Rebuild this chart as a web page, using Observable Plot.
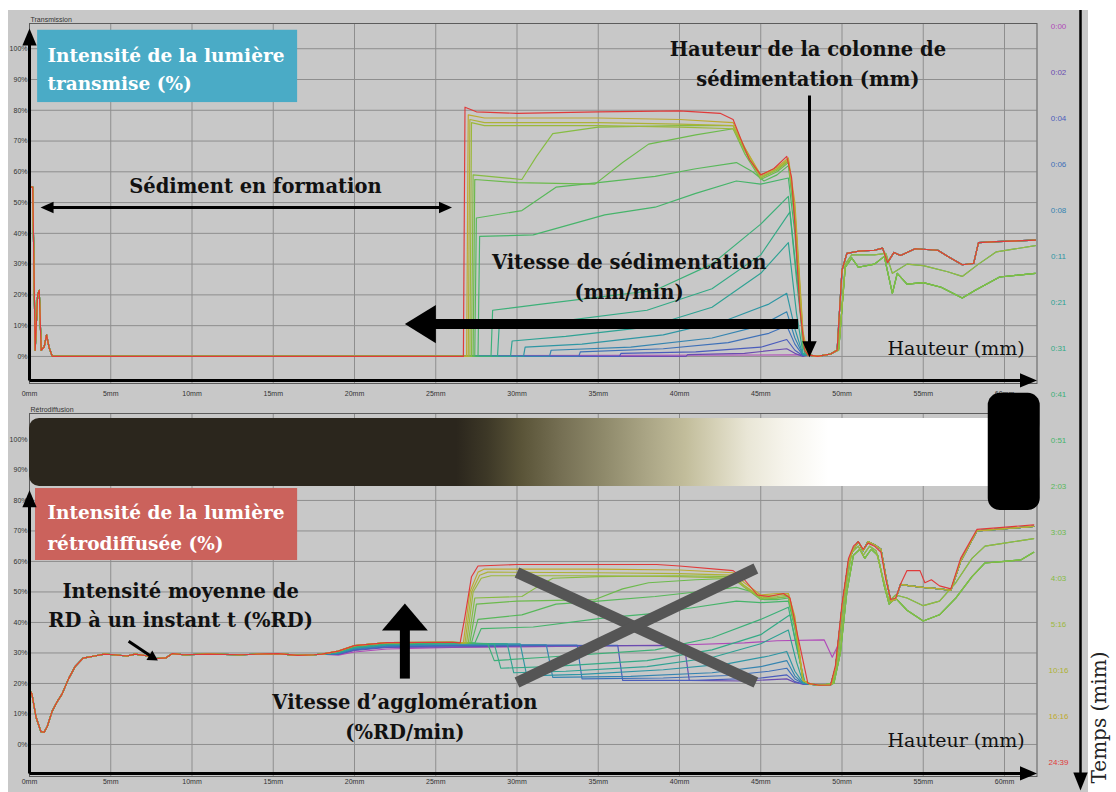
<!DOCTYPE html>
<html><head><meta charset="utf-8">
<script src="https://cdn.jsdelivr.net/npm/d3@7"></script>
<script src="https://cdn.jsdelivr.net/npm/@observablehq/plot@0.6"></script>
<style>
html,body{margin:0;padding:0;background:#fff;}
#wrap{position:relative;width:1116px;height:792px;overflow:hidden;background:#fff;}
#bg{position:absolute;left:8px;top:10px;width:1080px;height:782px;background:#c8c8c8;}
#wrap svg{position:absolute;}
</style></head>
<body><div id="wrap"><div id="bg"></div></div>
<script>
// ---------------- DATA ----------------
const times = ["0:00","0:02","0:04","0:06","0:08","0:11","0:21","0:31","0:41","0:51","2:03","3:03","4:03","5:16","10:16","16:16","24:39"];
const xTicks = [0,5,10,15,20,25,30,35,40,45,50,55,60];
const yTicks = [0,10,20,30,40,50,60,70,80,90,100];

// Transmission (%), shared start (0-1.4 mm)
const transLeft = [[0,55],[0.2,55],[0.35,2],[0.5,20],[0.6,21.5],[0.72,2],[0.9,3],[1.05,7],[1.2,3],[1.4,0]];
// Transmission, per time, 26-48 mm
const transMid = [
  [],
  [[40.4,0],[40.5,0.6],[44,1],[46.6,2.5],[47.1,1],[47.6,0]],
  [[36.3,0],[36.4,1],[41,1.5],[45,3],[46.6,5.5],[47.1,2],[47.6,0.2]],
  [[33.8,0],[33.9,1.5],[39,2.5],[43,4.5],[45.5,7.5],[46.6,10],[47.1,4],[47.6,0.3]],
  [[32.0,0],[32.1,2],[37,3],[42,6],[45,10],[46.6,14.5],[47.1,6],[47.6,0.5]],
  [[30.4,0],[30.5,3],[34,4],[39,7],[43,12],[45.5,17],[46.6,20.5],[47.1,9],[47.6,0.5]],
  [[29.6,0],[29.7,5],[33,6.5],[38,9.5],[42,16],[45,27],[46.7,37],[47.2,14],[47.6,1]],
  [[28.8,0],[28.9,9.5],[32,11],[38,15],[42,22],[45,33],[46.8,47],[47.3,22],[47.7,1]],
  [[28.4,0],[28.5,15],[31.5,17],[38.5,21.5],[42,30],[45,43],[46.7,52],[47.2,25],[47.7,1]],
  [[27.6,0],[27.7,39],[31,39.5],[35.4,46],[38.5,48.5],[41,53],[43.5,57],[45,56],[46.7,58],[47.1,40],[47.6,3]],
  [[27.4,0],[27.5,45],[30.3,47.4],[32.4,55],[35,56.5],[38.5,58.5],[41,61],[43.5,63],[44.5,60],[45.2,57],[46,59],[46.7,62],[47.1,44],[47.6,3]],
  [[27.3,0],[27.4,57.5],[30,56.5],[34.8,56],[36.5,63],[38.1,69],[41,72],[43.3,74],[44,66],[45,57.5],[46,60],[46.7,63],[47.1,45],[47.6,4]],
  [[27.2,0],[27.3,59],[30.3,57.5],[31.2,65],[32.2,72.4],[35,74.5],[40,75],[43.3,75],[44,67],[45,58],[46,60.5],[46.7,63.5],[47.1,46],[47.6,5]],
  [[27.1,0],[27.2,76],[28,75],[35,75],[40,74.5],[43.3,74],[44,67],[45,58],[46,61],[46.7,63.5],[47.1,47],[47.6,6]],
  [[27.0,0],[27.1,77],[28,76],[35,76],[40,75.5],[43.3,75],[44,68],[45,58.5],[46,61],[46.7,64],[47.1,48],[47.6,7]],
  [[26.9,0],[27.0,78.5],[28,77.5],[35,77.5],[40,77],[43.3,76],[44,68],[45,59],[46,61.5],[46.7,64.5],[47.1,50],[47.6,8]],
  [[26.7,0],[26.8,81],[27.5,79.5],[30,79],[35,79.5],[40,79.8],[42.5,79],[43.3,77],[43.9,69],[44.3,64],[45,59],[45.8,61],[46.6,65],[46.9,58],[47.1,43],[47.4,16],[47.7,2]]
];
// Transmission, top of the cell (48-62 mm), three families of curves
const transRightA = [[47.9,0.5],[48.5,0],[49.3,0.8],[49.7,2],[50.0,28],[50.3,33.5],[51,34.2],[52,34.5],[52.5,35.2],[52.8,30.5],[53.2,33.8],[53.6,32.8],[54.5,35],[55.9,34.5],[56.6,32.2],[57.4,29.8],[58.1,30.2],[58.4,37],[59.5,37.3],[61.9,37.8]];
const transRightB = [[47.9,0.5],[48.5,0],[49.3,0.8],[49.8,2.5],[50.2,29],[50.6,32],[51,29],[52,30],[52.6,32.5],[53.1,20.5],[53.4,27],[54,23.5],[55,24],[56.1,22.5],[57.4,19],[58.2,21.5],[59.7,25.8],[61.9,27]];
const transRightC = [[47.9,0.5],[48.5,0],[49.3,0.8],[49.8,2],[50.2,30],[50.6,33],[52,33],[52.7,33.5],[53.1,27],[54,30],[55,29.5],[56.5,27.5],[57.4,26],[58.4,30],[59.5,34],[61.9,36]];
const transRightGroup = ["A","A","A","A","A","A","A","C","B","B","B","B","B","C","A","A","A"];

// Backscattering (%), shared start (0-18 mm)
const backLeft = [[0,18],[0.15,16.5],[0.4,9],[0.7,4.2],[0.9,4],[1.1,6],[1.4,11],[1.7,14],[2.0,16.5],[2.4,21.5],[2.8,25.5],[3.3,28.3],[4,29],[4.6,29.6],[5.2,29.4],[6,29],[6.5,29.6],[7.3,29],[7.8,28.2],[8.4,28.4],[8.8,29.8],[9.5,29.4],[11,29.6],[13,29.4],[14.5,29.7],[15.3,29.8],[16.5,29.2],[17.5,29.4],[18,29.6]];
const backMid = [
  [[19,29.3],[20,30.3],[22,31.3],[24,31.6],[26,31.8],[30,32],[35,32.3],[40,32.6],[44,33.3],[46,34],[48.9,34.3],[49.4,28.6]],
  [[19,29.5],[20,30.8],[22,31.8],[26,32],[30,32.2],[35,32.4],[40.3,32.4],[40.6,21],[44,20.8],[46.6,21.5],[47.1,20.3],[47.6,19.8]],
  [[19,29.6],[20,31],[22,32],[26,32.3],[30,32.4],[36.2,32.5],[36.5,21],[41,21],[45,21.8],[46.6,22.8],[47.1,20.6],[47.6,19.8]],
  [[19,29.7],[20,31.2],[22,32.2],[26,32.5],[30,32.6],[33.7,32.6],[34.0,21.5],[39,21.8],[43,22.6],[45.5,24],[46.6,25],[47.1,21.5],[47.6,20]],
  [[19,29.8],[20,31.4],[22,32.4],[26,32.7],[31.8,32.7],[32.2,22],[37,22.3],[42,23.5],[45,25.5],[46.6,27.5],[47.1,22.5],[47.6,20]],
  [[19,30],[20,31.6],[22,32.6],[26,33],[30.2,33],[30.6,22.5],[34,23],[39,24.5],[43,26.5],[45.5,29],[46.6,30.5],[47.1,24],[47.6,20.2]],
  [[19,30.2],[20,31.8],[22,32.8],[26,33.2],[29.4,33],[29.8,23.5],[33,24],[38,25.5],[42,28.5],[45,33],[46.7,37.5],[47.2,27],[47.6,20.5]],
  [[19,30.3],[20,32],[22,33],[26,33.3],[28.6,33],[29.0,25],[32,25.5],[38,27.5],[42,31],[45,36],[46.8,42.5],[47.3,30],[47.7,20.5]],
  [[19,30.4],[20,32.1],[22,33.1],[26,33.4],[28.2,33],[28.6,27.5],[31.5,28.5],[38.5,31],[42,35],[45,41],[46.7,45],[47.2,32],[47.7,20.5]],
  [[19,30.5],[20,32.2],[22,33.2],[26,33.4],[27.4,33.2],[27.8,38],[31,38.5],[35.4,41.5],[38.5,43],[41,45],[43.5,47],[45,46.5],[46.7,47],[47.1,38],[47.6,21]],
  [[19,30.5],[20,32.3],[22,33.3],[26,33.5],[27.2,33.3],[27.6,41],[30.3,42.5],[32.4,46],[35,47],[38.5,48.5],[41,50],[43.5,51.5],[44.5,50],[45.2,47.5],[46,47.5],[46.7,48],[47.1,39],[47.6,21]],
  [[19,30.6],[20,32.4],[22,33.4],[26,33.5],[27.1,33.3],[27.5,46],[30,47],[34.8,47.5],[36.5,51],[38.1,53],[41,54],[43.3,54.5],[44,51.5],[45,47.5],[46,48],[46.7,48.5],[47.1,39],[47.6,21]],
  [[19,30.6],[20,32.4],[22,33.4],[26,33.5],[27.0,33.3],[27.4,48],[30.3,48.5],[31.2,51.5],[32.2,54.5],[35,55],[40,55.3],[43.3,55],[44,52],[45,48],[46,48],[46.7,48.5],[47.1,39],[47.6,21]],
  [[19,30.6],[20,32.4],[22,33.4],[26,33.5],[26.9,33.3],[27.3,50],[27.8,54.5],[28.4,55.3],[35,55.3],[40,55],[43.3,54.5],[44,51.5],[45,48],[46,48.5],[46.7,49],[47.1,40],[47.6,21]],
  [[19,30.6],[20,32.4],[22,33.4],[26,33.5],[26.8,33.3],[27.2,50],[27.7,55.5],[28.2,56.5],[35,56.3],[40,56],[43.3,55.5],[44,52],[45,48.5],[46,49],[46.7,49.5],[47.1,41],[47.6,21]],
  [[19,30.6],[20,32.4],[22,33.4],[26,33.5],[26.7,33.3],[27.1,50],[27.6,56.5],[28,57.5],[35,57.5],[40,57.2],[43.3,56.3],[44,53],[45,49],[46,49.5],[46.7,49.5],[47.1,42],[47.6,21]],
  [[19,30.6],[20,32.4],[22,33.4],[26,33.5],[26.5,33.3],[26.8,42],[27.2,55],[27.6,58.5],[30,59],[35,59],[38.6,59],[40,58.5],[43.3,57],[44,54],[44.8,49],[45.5,48.5],[46.4,49.5],[46.8,48],[47.3,35],[47.9,20]]
];
const backRightA = [[48.0,19.8],[48.6,19.4],[49.3,19.5],[49.6,25],[50.0,45],[50.4,60],[50.7,64],[51.0,66.5],[51.3,63.5],[51.6,66.5],[52.0,65.5],[52.4,64],[52.7,55],[53.0,47],[53.3,47.5],[53.6,52.5],[54.2,52],[55,51.5],[56,51],[56.7,50.5],[57.3,60],[58.3,70],[59.5,70.5],[61.8,71.5]];
const backRightB = [[48.0,20],[48.6,19.4],[49.5,20],[49.9,30],[50.3,50],[50.7,62],[51.1,64],[51.4,61],[51.8,64],[52.2,62],[52.6,52],[52.9,46],[53.3,48],[54.0,44],[55.0,40.5],[56.0,42.5],[57.0,48],[58.0,55],[58.8,59.5],[60.0,60],[61.0,60.5],[61.8,63]];
const backRightC = [[48.0,20],[48.6,19.4],[49.4,19.8],[49.8,30],[50.2,50],[50.6,63],[51.0,65],[51.3,62],[51.7,65],[52.1,63.5],[52.5,55],[52.9,47],[53.3,49],[54.0,48],[55.0,45.5],[56.0,47],[57.0,53],[58.0,61],[58.8,65],[60.0,66],[61.8,67.5]];
const backRightP = [[49.8,33],[50.1,45],[50.4,60],[50.7,64],[51.0,66.5],[51.3,63.5],[51.6,66.5],[52.0,65.5],[52.4,64],[52.7,55],[53.0,47],[53.3,47.5],[53.6,52.5],[54.2,52],[55,51.5],[56,51],[56.7,50.5],[57.3,60],[58.3,70],[59.5,70.5],[61.8,71.5]];
const backRightR = [[48.0,20],[48.6,19.4],[49.3,19.5],[49.6,26],[50.0,46],[50.4,61],[50.7,65],[51.0,66.5],[51.3,64],[51.6,66],[52.0,65],[52.4,63],[52.7,54],[53.0,47.5],[53.3,48],[53.6,52.5],[54.0,57],[54.8,57],[55.1,53],[55.5,54],[56,52],[56.7,51],[57.3,61],[58.3,70.5],[59.5,71],[61.8,72]];
const backRightGroup = ["P","A","A","A","A","A","A","A","C","B","B","B","B","C","A","A","R"];

// ---------------- STYLE ----------------
const timeColors = ["#b04ab8","#6a4cb0","#4a5cbc","#3e70b8","#3584b0","#2e96a4","#2ea294","#33aa86","#3cb078","#46b46a","#58b85a","#6cba4c","#86bc42","#9cb83c","#aeb236","#beaa30","#e03a3a"];
const gradStops = [[0,"#2b261d"],[26.3,"#2b261d"],[28.2,"#3d3827"],[30.3,"#5a5438"],[32.8,"#767054"],[35.4,"#8f8a6b"],[38,"#aaa585"],[40.4,"#c2bd9b"],[42.5,"#d8d4bb"],[44.2,"#e9e6d6"],[46.5,"#f6f4ec"],[49.2,"#ffffff"],[62.2,"#ffffff"]];
const serif = "'DejaVu Serif','Liberation Serif',serif";
const sans = "'Liberation Sans',Arial,sans-serif";

// ---------------- helpers ----------------
function buildRows(left, mids, rights, groups) {
  const rows = [];
  times.forEach((t, i) => {
    [...left, ...mids[i], ...rights[groups[i]]].forEach(([x, y]) => rows.push({t, x, y}));
  });
  return rows;
}
const transRows = buildRows(transLeft, transMid, {A: transRightA, B: transRightB, C: transRightC}, transRightGroup);
const backRows = buildRows(backLeft, backMid, {A: backRightA, B: backRightB, C: backRightC, P: backRightP, R: backRightR}, backRightGroup);

function headSymbol(ratio) {
  return {draw(ctx, size) {
    const r = Math.sqrt(size / Math.PI);
    ctx.moveTo(0, 0); ctx.lineTo(-ratio * r, r); ctx.lineTo(ratio * r, r); ctx.closePath();
  }};
}
const headDot = h => Plot.dot([h], {x: "x", y: "y", r: h.len, symbol: headSymbol(h.ratio), rotate: h.rot, fill: h.color || "#000", stroke: "none"});
const shaft = s => Plot.link([s], {x1: "x1", y1: "y1", x2: "x2", y2: "y2", stroke: s.color || "#000", strokeWidth: s.w});
const noteText = (arr, o) => Plot.text(arr, {x: "x", y: "y", text: "text", fontFamily: serif, ...o});

function gridAndAxes(title, pad) {
  return [
    Plot.gridX(xTicks, {stroke: "#8e8e8e", strokeOpacity: 1}),
    Plot.gridY(yTicks, {stroke: "#8e8e8e", strokeOpacity: 1}),
    Plot.frame({stroke: "#5c5c5c"}),
    Plot.axisX(xTicks, {tickFormat: d => d + "mm", tickSize: 0, tickPadding: pad, fontSize: 7, label: null, fontFamily: sans}),
    Plot.axisY(yTicks, {tickFormat: d => d + "%", tickSize: 0, tickPadding: 2, fontSize: 7, label: null, fontFamily: sans}),
    Plot.text([title], {frameAnchor: "top-left", dx: 1, dy: -6, fontSize: 7, fontFamily: sans, fill: "#333"})
  ];
}
const baseOpts = {width: 1040, marginLeft: 29, marginRight: 3.5, x: {domain: [0, 62]},
  color: {domain: times, range: timeColors}, style: {background: "transparent", color: "#333", overflow: "visible"}};

// ---------------- annotations ----------------
const topShafts = [
  {x1: 0, y1: -7.8, x2: 0, y2: 103, w: 3},
  {x1: 0, y1: -7.8, x2: 61, y2: -7.8, w: 3},
  {x1: 1.3, y1: 48.4, x2: 25.4, y2: 48.4, w: 3},
  {x1: 48.0, y1: 84.8, x2: 48.0, y2: 4, w: 3},
  {x1: 24.8, y1: 10.5, x2: 47.3, y2: 10.5, w: 10}
];
const topHeads = [
  {x: 0, y: 106.6, len: 17, ratio: 0.42, rot: 0},
  {x: 62, y: -7.8, len: 17, ratio: 0.42, rot: 90},
  {x: 0.68, y: 48.4, len: 13, ratio: 0.45, rot: -90},
  {x: 26.0, y: 48.4, len: 13, ratio: 0.45, rot: 90},
  {x: 48.0, y: -0.3, len: 16, ratio: 0.45, rot: 180},
  {x: 23.1, y: 10.5, len: 31, ratio: 0.62, rot: -90}
];
const topBox = [{x1: 0.5, x2: 16.5, y1: 82.5, y2: 106}];
const topBoxText = [{x: 1.1, y: 94.0, text: "Intensité de la lumière\ntransmise (%)"}];
const topNotes = [
  {x: 13.9, y: 56.0, text: "Sédiment en formation"},
  {x: 47.9, y: 95.8, text: "Hauteur de la colonne de\nsédimentation (mm)"},
  {x: 36.9, y: 26.6, text: "Vitesse de sédimentation\n(mm/min)"}
];
const topAxisName = [{x: 52.8, y: 2.6, text: "Hauteur (mm)"}];

const botShafts = [
  {x1: 0, y1: -9.5, x2: 0, y2: 80, w: 3},
  {x1: 0, y1: -9.5, x2: 61, y2: -9.5, w: 3},
  {x1: 6.1, y1: 33.8, x2: 7.5, y2: 28.8, w: 3},
  {x1: 23.1, y1: 21.6, x2: 23.1, y2: 38.5, w: 10}
];
const botHeads = [
  {x: 0, y: 83.3, len: 17, ratio: 0.42, rot: 0},
  {x: 62, y: -9.5, len: 17, ratio: 0.42, rot: 90},
  {x: 7.9, y: 27.5, len: 10, ratio: 0.55, rot: 122},
  {x: 23.1, y: 46.2, len: 27, ratio: 0.85, rot: 0}
];
const botCross = [{x1: 30.0, y1: 56.4, x2: 44.7, y2: 20.3}, {x1: 30.0, y1: 20.3, x2: 44.7, y2: 57.7}];
const botBar = [{x1: 0, x2: 62.2, y1: 84.6, y2: 106.9}];
const botBlack = [{x1: 59.0, x2: 62.2, y1: 76.7, y2: 115.1}];
const botBox = [{x1: 0.37, x2: 16.5, y1: 60.3, y2: 83.9}];
const botBoxText = [{x: 1.1, y: 72.0, text: "Intensité de la lumière\nrétrodiffusée (%)"}];
const botNotes = [
  {x: 9.3, y: 46.3, text: "Intensité moyenne de\nRD à un instant t (%RD)"},
  {x: 23.1, y: 9.8, text: "Vitesse d’agglomération\n(%RD/min)"}
];
const botAxisName = [{x: 52.8, y: 1.3, text: "Hauteur (mm)"}];

// ---------------- TOP PANEL ----------------
const topPlot = Plot.plot({
  ...baseOpts, height: 408, marginTop: 23, marginBottom: 25,
  y: {domain: [-8.8, 108.2]},
  marks: [
    ...gridAndAxes("Transmission", 8),
    Plot.line(transRows, {x: "x", y: "y", z: "t", stroke: "t", strokeWidth: 1.15}),
    Plot.rect(topBox, {x1: "x1", x2: "x2", y1: "y1", y2: "y2", fill: "#4aabc6", ariaLabel: "box"}),
    noteText(topBoxText, {fill: "#fff", fontWeight: "bold", fontSize: 18.5, textAnchor: "start", lineHeight: 1.52}),
    ...topShafts.map(s => shaft(s)),
    ...topHeads.map(headDot),
    noteText(topNotes, {fill: "#111", fontWeight: "bold", fontSize: 19.5, lineHeight: 1.5, ariaLabel: "note"}),
    noteText(topAxisName, {fill: "#111", fontSize: 19, textAnchor: "start"})
  ]
});

// ---------------- BOTTOM PANEL ----------------
const bottomPlot = Plot.plot({
  ...baseOpts, height: 402, marginTop: 23, marginBottom: 16,
  y: {domain: [-10.5, 108.5]},
  marks: [
    ...gridAndAxes("Rétrodiffusion", 3),
    Plot.line(backRows, {x: "x", y: "y", z: "t", stroke: "t", strokeWidth: 1.15}),
    Plot.rect(botBar, {x1: "x1", x2: "x2", y1: "y1", y2: "y2", fill: "url(#rdGrad)", rx: 10}),
    Plot.rect(botBlack, {x1: "x1", x2: "x2", y1: "y1", y2: "y2", fill: "#000", rx: 12}),
    Plot.link(botCross, {x1: "x1", y1: "y1", x2: "x2", y2: "y2", stroke: "#555", strokeWidth: 11}),
    Plot.rect(botBox, {x1: "x1", x2: "x2", y1: "y1", y2: "y2", fill: "#cb625c", ariaLabel: "box"}),
    noteText(botBoxText, {fill: "#fff", fontWeight: "bold", fontSize: 18.5, textAnchor: "start", lineHeight: 1.68}),
    ...botShafts.map(s => shaft(s)),
    ...botHeads.map(headDot),
    noteText(botNotes, {fill: "#111", fontWeight: "bold", fontSize: 19.5, lineHeight: 1.5, ariaLabel: "note"}),
    noteText(botAxisName, {fill: "#111", fontSize: 19, textAnchor: "start"})
  ]
});

// gradient for the sample-colour bar
{
  const xs = bottomPlot.scale("x");
  const x0 = xs.apply(0), x1 = xs.apply(62.2);
  const svg = d3.select(bottomPlot);
  const g = svg.insert("defs", ":first-child").append("linearGradient")
    .attr("id", "rdGrad").attr("gradientUnits", "userSpaceOnUse")
    .attr("x1", x0).attr("x2", x1).attr("y1", 0).attr("y2", 0);
  gradStops.forEach(([mm, c]) => g.append("stop").attr("offset", (xs.apply(mm) - x0) / (x1 - x0)).attr("stop-color", c));
}

// ---------------- TIME LEGEND ----------------
const legendPlot = Plot.plot({
  width: 86, height: 792, marginTop: 0, marginBottom: 0, marginLeft: 0, marginRight: 0,
  x: {domain: [0, 86], axis: null},
  y: {type: "point", domain: times, range: [22, 766], padding: 0, axis: null},
  color: {domain: times, range: timeColors},
  style: {background: "transparent", overflow: "visible"},
  marks: [
    Plot.text(times, {x: 28, y: d => d, text: d => d, fill: d => d, fontSize: 8, fontFamily: sans}),
    Plot.ruleX([50], {stroke: "#000", strokeWidth: 2.5, insetTop: 10, insetBottom: 16}),
    Plot.dot([0], {x: 50, frameAnchor: "bottom", dy: -2, r: 18, symbol: headSymbol(0.4), rotate: 180, fill: "#000", stroke: "none"}),
    Plot.text(["Temps (mim)"], {x: 75, frameAnchor: "bottom", dy: -75, rotate: -90, fontSize: 20, fontFamily: serif, fill: "#222"})
  ]
});

// shadows
for (const p of [topPlot, bottomPlot]) {
  d3.select(p).selectAll('g[aria-label="note"]').style("filter", "drop-shadow(1.5px 1.5px 1.2px rgba(0,0,0,0.45))");
  d3.select(p).selectAll('g[aria-label="box"]').style("filter", "drop-shadow(2px 2px 2px rgba(0,0,0,0.35))");
}

const wrap = document.getElementById("wrap");
topPlot.style.left = "0px"; topPlot.style.top = "0px";
bottomPlot.style.left = "0px"; bottomPlot.style.top = "390px";
legendPlot.style.left = "1030px"; legendPlot.style.top = "0px";
wrap.append(topPlot, bottomPlot, legendPlot);
</script></body></html>
